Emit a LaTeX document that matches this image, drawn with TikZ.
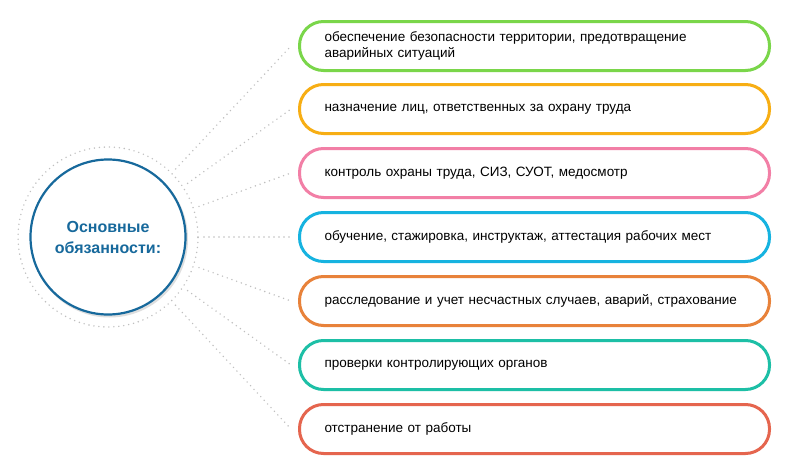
\documentclass[tikz,border=0pt]{standalone}
\usepackage{fontspec}
\setmainfont{Liberation Sans}
\usetikzlibrary{calc}
\definecolor{cA}{HTML}{7AD64A}
\definecolor{cB}{HTML}{F7AE14}
\definecolor{cC}{HTML}{F27FA6}
\definecolor{cD}{HTML}{16B3E0}
\definecolor{cE}{HTML}{E8823A}
\definecolor{cF}{HTML}{1DBFA6}
\definecolor{cG}{HTML}{E5654E}
\definecolor{cblue}{HTML}{17699C}
\begin{document}
\begin{tikzpicture}[x=1pt,y=-1pt,
  pill/.style={draw=#1,line width=3pt,rounded corners=24pt,minimum width=470pt,minimum height=49pt,fill=white,
    text width=420pt,align=left,inner xsep=24pt,font=\fontsize{13.5}{16}\selectfont,anchor=west},
  dots/.style={draw=gray!50,line width=1.6pt,dash pattern=on 0pt off 5pt,line cap=round}]
\useasboundingbox (0,0) rectangle (787,471);
\fill[white] (0,0) rectangle (787,471);
\node[circle,minimum size=180pt,dots] (o) at (108,237) {};
\fill[gray!25] (109.5,239) circle (78.5pt);
\node[circle,draw=cblue,line width=2.2pt,fill=white,minimum size=155pt,align=center,
  text=cblue,font=\bfseries\fontsize{16}{21}\selectfont] (c) at (108,237) {Основные\\обязанности:};
\foreach \y/\col/\t [count=\i] in {
 46/cA/{обеспечение безопасности территории, предотвращение\\аварийных ситуаций},
 109/cB/{назначение лиц, ответственных за охрану труда},
 173/cC/{контроль охраны труда, СИЗ, СУОТ, медосмотр},
 237/cD/{обучение, стажировка, инструктаж, аттестация рабочих мест},
 301/cE/{расследование и учет несчастных случаев, аварий, страхование},
 365/cF/{проверки контролирующих органов},
 429/cG/{отстранение от работы}} {
  \node[pill=\col] (b\i) at (298,\y) {\t};
  \draw[dots] ($(c.center)!96pt!(b\i.west)$) -- ($(b\i.west)+(-7,0)$);
}
\end{tikzpicture}
\end{document}
